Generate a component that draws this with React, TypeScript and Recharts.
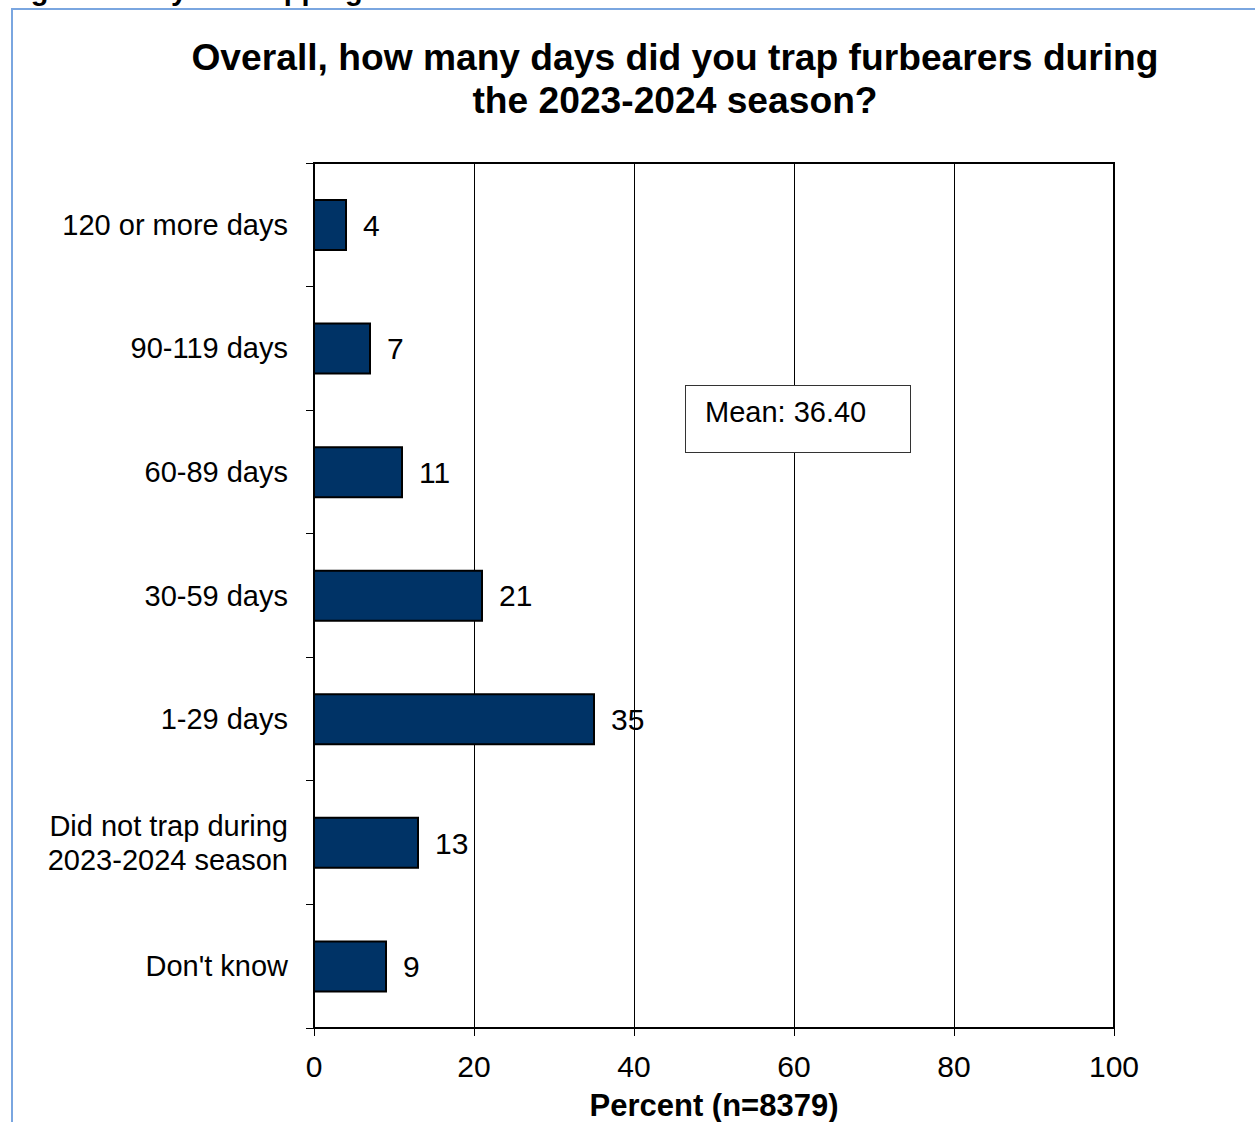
import React from 'react';
import {
  BarChart,
  Bar,
  XAxis,
  YAxis,
  CartesianGrid,
  LabelList,
  ReferenceArea,
} from 'recharts';

// Survey responses: days spent trapping furbearers, 2023-2024 season
const categories = [
  '120 or more days',
  '90-119 days',
  '60-89 days',
  '30-59 days',
  '1-29 days',
  'Did not trap during\n2023-2024 season',
  "Don't know",
];
const percents = [4, 7, 11, 21, 35, 13, 9];
const xTicks = [0, 20, 40, 60, 80, 100];
const titleLines = [
  'Overall, how many days did you trap furbearers during',
  'the 2023-2024 season?',
];
const axisTitle = 'Percent (n=8379)';
const meanText = 'Mean: 36.40';
const captionText = 'Figure 4. Days of trapping';

const data = categories.map((label, i) => ({ label, value: percents[i] }));

const W = 1255;
const H = 1122;
const PLOT_LEFT = 314;
const PLOT_TOP = 163;
const PLOT_RIGHT = 1114;
const PLOT_BOTTOM = 1028;
const Y_AXIS_W = 100;
const X_AXIS_H = 60;
const FONT = '"Liberation Sans", Arial, Helvetica, sans-serif';
const BAR_FILL = '#003366';

const BAND = (PLOT_BOTTOM - PLOT_TOP) / categories.length;

// Category label plus the short tick marks that sit on band boundaries
const CategoryTick = (props: any) => {
  const { y, payload, index } = props;
  const lines = String(payload.value).split('\n');
  const lineH = 34;
  const top = y - BAND / 2;
  return (
    <g>
      <line
        x1={PLOT_LEFT - 8}
        x2={PLOT_LEFT}
        y1={top}
        y2={top}
        stroke="#000"
        strokeWidth={1}
        shapeRendering="crispEdges"
      />
      {index === categories.length - 1 && (
        <line
          x1={PLOT_LEFT - 8}
          x2={PLOT_LEFT}
          y1={y + BAND / 2}
          y2={y + BAND / 2}
          stroke="#000"
          strokeWidth={1}
          shapeRendering="crispEdges"
        />
      )}
      {lines.map((ln, i) => (
        <text
          key={i}
          x={PLOT_LEFT - 26}
          y={y + (i - (lines.length - 1) / 2) * lineH + 10}
          textAnchor="end"
          fontSize={29}
          fontFamily={FONT}
          fill="#000"
        >
          {ln}
        </text>
      ))}
    </g>
  );
};

// Thin, crisp vertical gridlines
const GridLine = (p: any) => (
  <line
    key={p.key}
    x1={p.x1}
    x2={p.x2}
    y1={p.y1}
    y2={p.y2}
    stroke="#000"
    strokeWidth={1}
    shapeRendering="crispEdges"
  />
);

export default function App() {
  return (
    <div
      style={{
        position: 'absolute',
        left: 0,
        top: 0,
        width: W,
        height: H,
        overflow: 'hidden',
        background: '#fff',
      }}
    >
      <div style={{ position: 'absolute', left: 0, top: 0 }}>
        <BarChart
          width={W}
          height={H}
          data={data}
          layout="vertical"
          margin={{
            top: PLOT_TOP,
            right: W - PLOT_RIGHT,
            bottom: H - PLOT_BOTTOM - X_AXIS_H,
            left: PLOT_LEFT - Y_AXIS_W,
          }}
        >
          <CartesianGrid horizontal={false} vertical={GridLine} stroke="#000" strokeWidth={1} />
          <XAxis
            type="number"
            domain={[0, 100]}
            ticks={xTicks}
            interval={0}
            height={X_AXIS_H}
            axisLine={false}
            tickLine={{ stroke: '#000', strokeWidth: 1, shapeRendering: 'crispEdges' }}
            tickSize={8}
            tickMargin={20}
            tick={{ fontSize: 30, fill: '#000', fontFamily: FONT }}
          />
          <YAxis
            type="category"
            dataKey="label"
            width={Y_AXIS_W}
            interval={0}
            axisLine={false}
            tickLine={false}
            tick={<CategoryTick />}
          />
          <Bar
            dataKey="value"
            fill={BAR_FILL}
            stroke="#000"
            strokeWidth={2}
            barSize={50}
            isAnimationActive={false}
          >
            <LabelList
              dataKey="value"
              position="right"
              offset={17}
              fontSize={30}
              fill="#000"
              fontFamily={FONT}
            />
          </Bar>
          <ReferenceArea
            x1={0}
            x2={100}
            ifOverflow="visible"
            fill="none"
            fillOpacity={0}
            stroke="#000"
            strokeWidth={2}
          />
        </BarChart>
      </div>
      <svg
        width={W}
        height={H}
        style={{ position: 'absolute', left: 0, top: 0, pointerEvents: 'none' }}
      >
        <text x={5} y={0} fontSize={29} fontWeight="bold" fontFamily={FONT} fill="#000">
          {captionText}
        </text>
        <path d={`M12,${H} L12,9 L${W},9`} fill="none" stroke="#7aa6e0" strokeWidth={2} />
        {titleLines.map((t, i) => (
          <text
            key={i}
            x={675}
            y={70 + i * 43}
            textAnchor="middle"
            fontSize={37.2}
            fontWeight="bold"
            fontFamily={FONT}
            fill="#000"
          >
            {t}
          </text>
        ))}
        <rect x={685.5} y={385.5} width={225} height={67} fill="#fff" stroke="#333" strokeWidth={1} />
        <text x={705} y={422} fontSize={29} fontFamily={FONT} fill="#000">
          {meanText}
        </text>
        <text
          x={(PLOT_LEFT + PLOT_RIGHT) / 2}
          y={1116}
          textAnchor="middle"
          fontSize={31}
          fontWeight="bold"
          fontFamily={FONT}
          fill="#000"
        >
          {axisTitle}
        </text>
      </svg>
    </div>
  );
}
